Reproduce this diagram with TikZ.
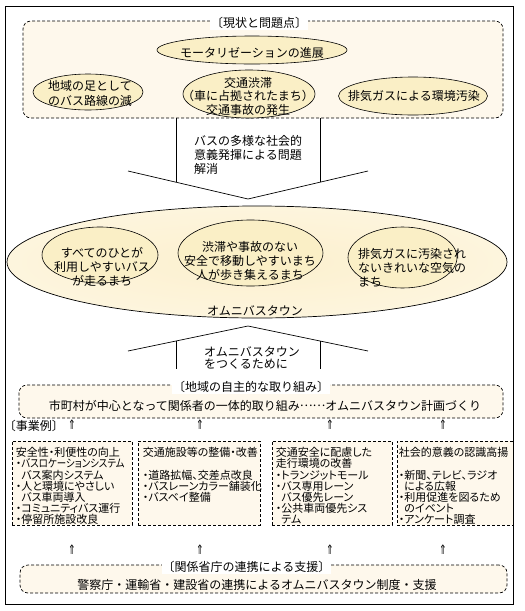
\documentclass[tikz,border=0pt]{standalone}
\usepackage{fontspec}
\setmainfont{Noto Sans CJK JP}
\newfontfamily\propfont[RawFeature=+palt]{Noto Sans CJK JP}
\newfontfamily\arrowfont{DejaVu Sans}
\usetikzlibrary{shapes.geometric, positioning}

\definecolor{boxfill}{HTML}{FEF8EC}
\definecolor{ovalfill}{HTML}{FAEFC6}
\definecolor{glowin}{HTML}{FCF0CE}
\definecolor{glowout}{HTML}{FFFDF7}
\pgfdeclareradialshading{townglow}{\pgfpoint{0bp}{0bp}}{color(0bp)=(glowin); color(30bp)=(glowin!55!glowout); color(50bp)=(glowout)}

\newcommand{\bulletgap}{\phantom{・}}
\newcommand{\tightlines}{\lineskiplimit=-20pt\lineskip=0pt\relax}

\tikzset{
  groupbox/.style={draw, dash pattern=on 3pt off 2pt, rounded corners=8pt, fill=boxfill, line width=0.7pt},
  grouptitle/.style={fill=white, inner sep=1pt, yshift=-2.5pt, font=\fontsize{12}{14}\selectfont},
  casebox/.style={draw, dash pattern=on 3pt off 2pt, fill=boxfill, minimum height=84, line width=0.7pt},
  casetext/.style={inner sep=0pt, align=left, yshift=-2.5pt, font=\propfont\fontsize{11}{11.2}\selectfont\tightlines},
  oval/.style={draw, ellipse, fill=ovalfill, inner sep=0pt, line width=0.6pt},
  ovaltext/.style={align=center, inner sep=0pt, yshift=-2.5pt, font=\fontsize{12}{14}\selectfont},
  plaintext/.style={inner sep=0pt, yshift=-2.5pt, font=\fontsize{12}{14}\selectfont},
  upmark/.style={inner sep=0pt, yshift=-2pt, font=\arrowfont\fontsize{13}{13}\selectfont}
}

\begin{document}
\begin{tikzpicture}[x=1pt, y=-1pt]
    \useasboundingbox (0,0) rectangle (525,611);
    \draw[line width=0.8pt] (5,6) rectangle (513,604);

    % Current state and problems
    \node[groupbox, minimum width=480, minimum height=97] (problems) at (263,69.5) {};
    \node[grouptitle] (problems-title) at ([xshift=-4]problems.north) {〔現状と問題点〕};
    \node[oval, minimum width=190, minimum height=28] (motor) at (252,50) {};
    \node[ovaltext] (motor-txt) at (motor) {モータリゼーションの進展};
    \node[oval, minimum width=110, minimum height=36] (decline) at (88,92) {};
    \node[ovaltext, font=\fontsize{12}{15}\selectfont] (decline-txt) at (90,90.5) {地域の足として\\のバス路線の減};
    \node[oval, minimum width=132, minimum height=48] (jam) at (249,94) {};
    \node[ovaltext, font=\fontsize{12}{13.5}\selectfont] (jam-txt) at (248,93.5) {交通渋滞\\（車に占拠されたまち）\\交通事故の発生};
    \node[oval, minimum width=149, minimum height=38] (exhaust) at (413,96) {};
    \node[ovaltext] (exhaust-txt) at (414,93) {排気ガスによる環境汚染};

    % Down arrow
    \draw[line width=0.7pt] (176,118) -- (176,182.2);
    \draw[line width=0.7pt] (320,118) -- (320,182.2);
    \draw[line width=0.7pt] (128,171) -- (248,199) -- (368,171);
    \node[plaintext, align=left, anchor=north west] (solve) at (194,132.5) {バスの多様な社会的\\意義発揮による問題\\解消};

    % Omnibus town
    \node[draw, ellipse, shading=townglow, line width=0.7pt, inner sep=0pt, minimum width=500, minimum height=112] (town) at (257,262) {};
    \node[oval, minimum width=116, minimum height=56] (everyone) at (100,255) {};
    \node[ovaltext] (everyone-txt) at (102,264.5) {すべてのひとが\\利用しやすいバス\\が走るまち};
    \node[oval, minimum width=145, minimum height=66] (safe) at (250.5,253) {};
    \node[ovaltext] (safe-txt) at (250,258.5) {渋滞や事故のない\\安全で移動しやすいまち\\人が歩き集えるまち};
    \node[oval, minimum width=109, minimum height=61] (clean) at (402.5,257.5) {};
    \node[ovaltext, align=left, anchor=west] (clean-txt) at (358,265.5) {排気ガスに汚染され\\ないきれいな空気の\\まち};
    \node[plaintext] (town-txt) at (255,308) {オムニバスタウン};

    % Up arrow
    \draw[line width=0.7pt] (128,351) -- (248,326) -- (368,351);
    \draw[line width=0.7pt] (176,341) -- (176,369);
    \draw[line width=0.7pt] (320,341) -- (320,369);
    \node[plaintext, align=left, anchor=north west, font=\fontsize{12}{12.5}\selectfont] (make) at (204,343.5) {オムニバスタウン\\をつくるために};

    % Local initiative
    \node[groupbox, minimum width=484, minimum height=33] (local) at (261,401.5) {};
    \node[grouptitle] (local-title) at ([xshift=-10]local.north) {〔地域の自主的な取り組み〕};
    \node[plaintext] (local-txt) at (265,403) {市町村が中心となって関係者の一体的取り組み\raisebox{0.3em}{……}オムニバスタウン計画づくり};

    % Project examples
    \node[plaintext] (examples) at (34,423) {〔事業例〕};
    \foreach \x [count=\i] in {72,200,330,443} {
        \node[upmark] (up\i) at (\x,423) {\scalebox{0.7}[1]{⇑}};
        \node[upmark] (low\i) at (\x,548) {\scalebox{0.7}[1]{⇑}};
    }
    \node[casebox, minimum width=120] (case1) at (72,483) {};
    \node[casebox, minimum width=122] (case2) at (199,483) {};
    \node[casebox, minimum width=120] (case3) at (332,483) {};
    \node[casebox, minimum width=116] (case4) at (455,483) {};
    \node[casetext, below right=4pt and 4pt of case1.north west] (case1-txt) {安全性・利便性の向上\\・\scalebox{0.86}[1]{バスロケーションシステム}\\\bulletgap バス案内システム\\・人と環境にやさしい\\\bulletgap バス車両導入\\・コミュニティバス運行\\・停留所施設改良};
    \node[casetext, below right=4pt and 5pt of case2.north west] (case2-txt) {交通施設等の整備・改善\\\mbox{}\\・道路拡幅、交差点改良\\・バスレーンカラー舗装化\\・バスベイ整備};
    \node[casetext, below right=4pt and 4pt of case3.north west] (case3-txt) {交通安全に配慮した\\走行環境の改善\\・トランジットモール\\・バス専用レーン\\\bulletgap バス優先レーン\\・公共車両優先シス\\\bulletgap テム};
    \node[casetext, below right=4pt and 2pt of case4.north west] (case4-txt) {社会的意義の認識高揚\\\mbox{}\\・新聞、テレビ、ラジオ\\\bulletgap による広報\\・利用促進を図るため\\\bulletgap のイベント\\・アンケート調査};

    % Ministry support
    \node[groupbox, minimum width=487, minimum height=28] (support) at (263.5,579) {};
    \node[grouptitle] (support-title) at ([xshift=-17]support.north) {〔関係省庁の連携による支援〕};
    \node[plaintext] (support-txt) at (257,582) {警察庁・運輸省・建設省の連携によるオムニバスタウン制度・支援};
\end{tikzpicture}
\end{document}
